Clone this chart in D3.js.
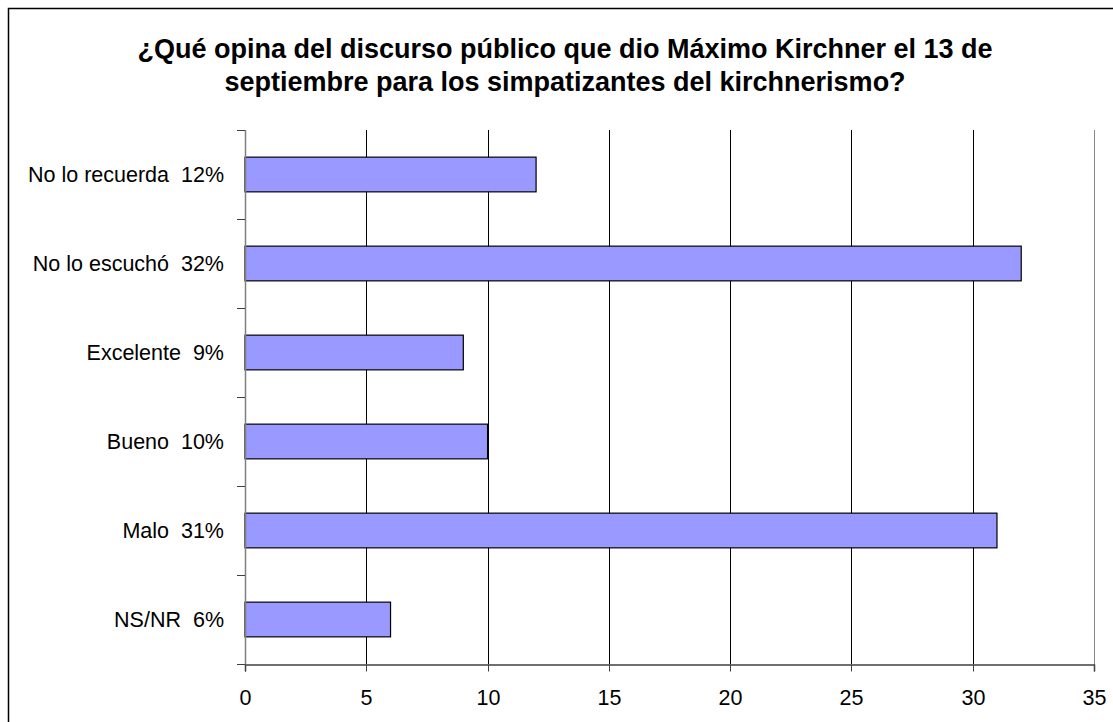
<!DOCTYPE html>
<html>
<head>
<meta charset="utf-8">
<script src="https://cdn.jsdelivr.net/npm/d3@7"></script>
<style>
  body { margin: 0; background: #fff; }
  text { font-family: "Liberation Sans", Arial, sans-serif; white-space: pre; }
</style>
</head>
<body>
<div id="chart"></div>
<script>
const categories = ['No lo recuerda  12%', 'No lo escuchó  32%', 'Excelente  9%', 'Bueno  10%', 'Malo  31%', 'NS/NR  6%'];
const values = [12, 32, 9, 10, 31, 6];
const xTicks = [0, 5, 10, 15, 20, 25, 30, 35];
const titleLines = ['¿Qué opina del discurso público que dio Máximo Kirchner el 13 de', 'septiembre para los simpatizantes del kirchnerismo?'];

const width = 1113, height = 722;
const margin = { top: 130, left: 245, right: 19, bottom: 58 };

const svg = d3.select('#chart').append('svg')
    .attr('width', width)
    .attr('height', height);

// outer frame (only top and left visible)
svg.append('rect')
    .attr('x', 8.5).attr('y', 8.5)
    .attr('width', width + 20).attr('height', height + 20)
    .attr('fill', 'none').attr('stroke', '#000').attr('stroke-width', 1.5);

svg.append('g').selectAll('text')
    .data(titleLines)
    .enter().append('text')
    .attr('x', 565)
    .attr('y', (d, i) => 58 + i * 33)
    .attr('text-anchor', 'middle')
    .style('font-size', '27px')
    .style('font-weight', 'bold')
    .text(d => d);

const x = d3.scaleLinear()
    .domain([0, 35])
    .range([margin.left, width - margin.right]);

const y = d3.scaleBand()
    .domain(categories)
    .range([margin.top, height - margin.bottom])
    .paddingInner(0.61)
    .paddingOuter(0.305);

const bottom = height - margin.bottom;

// vertical gridlines
svg.append('g').selectAll('line')
    .data(xTicks.slice(1))
    .enter().append('line')
    .attr('x1', d => Math.round(x(d)) + 0.5)
    .attr('x2', d => Math.round(x(d)) + 0.5)
    .attr('y1', margin.top)
    .attr('y2', bottom)
    .attr('stroke', d => d === 35 ? '#888' : '#000')
    .attr('stroke-width', 1);

// bars
svg.append('g').selectAll('rect')
    .data(values)
    .enter().append('rect')
    .attr('x', x(0))
    .attr('y', (d, i) => y(categories[i]))
    .attr('width', d => x(d) - x(0))
    .attr('height', y.bandwidth())
    .attr('fill', '#9999ff')
    .attr('stroke', '#000')
    .attr('stroke-width', 1.2);

// y axis: ticks at band boundaries
const step = y.step();
const yBounds = d3.range(categories.length + 1).map(i => margin.top + i * step);
svg.append('line')
    .attr('x1', margin.left + 0.5).attr('x2', margin.left + 0.5)
    .attr('y1', margin.top).attr('y2', bottom)
    .attr('stroke', '#808080').attr('stroke-width', 1.5);
svg.append('g').selectAll('line')
    .data(yBounds)
    .enter().append('line')
    .attr('x1', margin.left - 8).attr('x2', margin.left)
    .attr('y1', d => Math.round(d) + 0.5).attr('y2', d => Math.round(d) + 0.5)
    .attr('stroke', '#404040');
svg.append('g').selectAll('text')
    .data(categories)
    .enter().append('text')
    .attr('x', 224)
    .attr('y', d => y(d) + y.bandwidth() / 2 + 7.5)
    .attr('text-anchor', 'end')
    .style('font-size', '21.5px')
    .text(d => d);

// x axis
const xAxis = svg.append('g')
    .attr('transform', `translate(0,${bottom + 0.5})`)
    .call(d3.axisBottom(x).tickValues(xTicks).tickSize(7).tickFormat(d3.format('d')));
xAxis.select('.domain').attr('stroke', '#404040').attr('stroke-width', 1.5);
xAxis.selectAll('.tick line').attr('stroke', '#404040');
xAxis.selectAll('.tick text')
    .attr('y', 25)
    .style('font-size', '21.5px')
    .style('font-family', '"Liberation Sans", Arial, sans-serif')
    .attr('fill', '#000');
xAxis.selectAll('.tick').attr('transform', d => `translate(${Math.round(x(d)) + 0.5},0)`);
</script>
</body>
</html>
